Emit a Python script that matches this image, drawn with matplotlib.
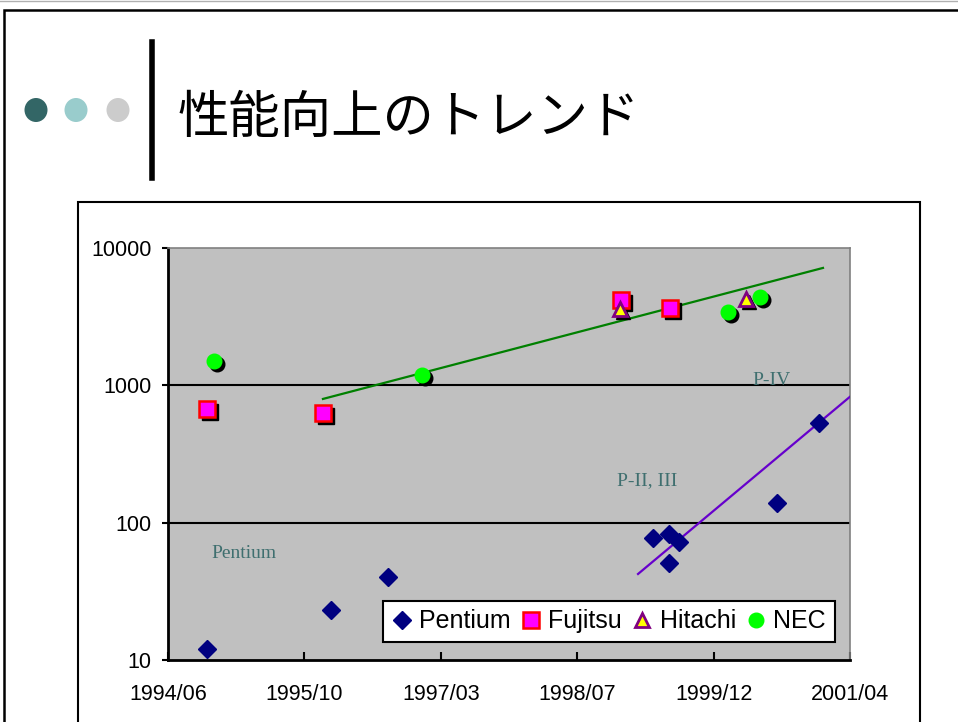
import numpy as np
import matplotlib
matplotlib.use("Agg")
import matplotlib.pyplot as plt
import matplotlib.dates as mdates
from matplotlib.patches import Rectangle, Ellipse
from matplotlib.lines import Line2D
from matplotlib.transforms import offset_copy

# ---- data ----
pentium_dates = ["1994-11-05", "1996-02-02", "1996-08-29", "1999-04-28", "1999-06-26",
                 "1999-08-01", "1999-06-26", "2000-07-25", "2000-12-26"]
pentium_vals = [12, 23, 40, 77, 83, 72, 51, 139, 530]

fujitsu_dates = ["1994-11-05", "1996-01-04", "1998-12-31", "1999-06-29"]
fujitsu_vals = [670, 630, 4190, 3660]

hitachi_dates = ["1998-12-28", "2000-04-02"]
hitachi_vals = [3600, 4260]

nec_dates = ["1994-12-01", "1997-01-01", "2000-01-28", "2000-05-24"]
nec_vals = [1500, 1190, 3430, 4400]

# trend lines (exponential fits, drawn as end points)
trend_high_dates = ["1996-01-04", "2001-01-10"]
trend_high_vals = [796, 7160]
trend_low_dates = ["1999-03-04", "2001-04-18"]
trend_low_vals = [42.3, 823]

tick_dates = ["1994-06-15", "1995-10-28", "1997-03-11", "1998-07-24", "1999-12-06", "2001-04-19"]
tick_labels = ["1994/06", "1995/10", "1997/03", "1998/07", "1999/12", "2001/04"]
y_ticks = [10, 100, 1000, 10000]


def d(lst):
    return mdates.datestr2num(lst)


W, H = 958, 722
fig = plt.figure(figsize=(W / 100, H / 100), dpi=100)
fig.patch.set_facecolor("white")


def fx(px):
    return px / W


def fy(py):
    return 1 - py / H


# slide frame
fig.add_artist(Rectangle((fx(4), -0.05), 1.2, fy(10) + 0.05, transform=fig.transFigure,
                         fill=False, edgecolor="black", lw=1.8))
fig.add_artist(Line2D([0, 1], [fy(1), fy(1)], transform=fig.transFigure, color="#b0b0b0", lw=1))

# title bullets and bar
for cx, col in zip([36, 76, 118], ["#336666", "#99cccc", "#cccccc"]):
    fig.add_artist(Ellipse((fx(cx), fy(110)), 23 / W, 24 / H, transform=fig.transFigure,
                           facecolor=col, edgecolor="none"))
fig.add_artist(Line2D([fx(152), fx(152)], [fy(42), fy(178)], transform=fig.transFigure,
                      color="black", lw=4))
fig.text(fx(178), fy(118), "性能向上のトレンド", fontsize=37, va="center", ha="left",
         family=["Noto Sans CJK JP", "DejaVu Sans"], color="black")

# chart box
fig.add_artist(Rectangle((fx(78), -0.05), fx(920) - fx(78), fy(202) + 0.05,
                         transform=fig.transFigure, fill=False, edgecolor="black", lw=1.5))

ax = fig.add_axes([fx(168), fy(660), fx(850) - fx(168), fy(248) - fy(660)])
ax.set_facecolor("#c0c0c0")
ax.set_yscale("log")
ax.set_ylim(10, 10000)
ax.set_xlim(d(tick_dates)[0], d(tick_dates)[-1])

ax.yaxis.set_major_locator(matplotlib.ticker.FixedLocator(y_ticks))
ax.yaxis.set_minor_locator(matplotlib.ticker.NullLocator())
ax.set_yticklabels([str(v) for v in y_ticks])
ax.set_xticks(d(tick_dates))
ax.set_xticklabels(tick_labels)
ax.tick_params(axis="y", direction="out", length=4, width=1.5, labelsize=15.5, pad=8)
ax.tick_params(axis="x", direction="in", length=6, width=1.5, labelsize=15.5, pad=17)
for lab in ax.get_xticklabels() + ax.get_yticklabels():
    lab.set_family("Liberation Sans")

for v in y_ticks[1:3]:
    ax.axhline(v, color="black", lw=1.5, zorder=1)

for s in ["left", "bottom"]:
    ax.spines[s].set_linewidth(2)
    ax.spines[s].set_color("black")
for s in ["top", "right"]:
    ax.spines[s].set_linewidth(1.2)
    ax.spines[s].set_color("#808080")

shadow = offset_copy(ax.transData, fig=fig, x=3, y=-3, units="dots")

ax.plot(d(trend_high_dates), trend_high_vals, color="#008000", lw=1.6, zorder=3)
ax.plot(d(trend_low_dates), trend_low_vals, color="#6600cc", lw=1.6, zorder=3)

ax.plot(d(pentium_dates), pentium_vals, "D", ms=9.5, color="#000080", mec="#000080",
        zorder=4, label="Pentium")

ax.plot(d(fujitsu_dates), fujitsu_vals, "s", ms=11, color="black", mec="black",
        transform=shadow, zorder=4)
ax.plot(d(fujitsu_dates), fujitsu_vals, "s", ms=11, mfc="#ff00ff", mec="#ff0000", mew=1.8,
        zorder=5, label="Fujitsu")

ax.plot(d(hitachi_dates), hitachi_vals, "^", ms=10, color="black", mec="black",
        transform=shadow, zorder=4)
ax.plot(d(hitachi_dates), hitachi_vals, "^", ms=10, mfc="#ffff00", mec="#800080", mew=2,
        zorder=6, label="Hitachi")

ax.plot(d(nec_dates), nec_vals, "o", ms=10.5, color="black", mec="black",
        transform=shadow, zorder=4)
ax.plot(d(nec_dates), nec_vals, "o", ms=10.5, mfc="#00ff00", mec="#00ff00",
        zorder=5, label="NEC")

txt_col = "#3f6f6f"
ax.text(d(["1995-03-22"])[0], 60, "Pentium", fontsize=14, family="Liberation Serif",
        color=txt_col, ha="center", va="center")
ax.text(d(["1999-04-05"])[0], 202, "P-II, III", fontsize=14, family="Liberation Serif",
        color=txt_col, ha="center", va="center")
ax.text(d(["2000-07-07"])[0], 1080, "P-IV", fontsize=14, family="Liberation Serif",
        color=txt_col, ha="center", va="center")

leg = ax.legend(loc="lower left", bbox_to_anchor=((383 - 168) / 682, (660 - 642) / 412),
                ncol=4, frameon=True, fancybox=False, edgecolor="black", framealpha=1,
                prop={"family": "Liberation Sans", "size": 18}, handlelength=0.8,
                handletextpad=0.3, columnspacing=0.4, borderpad=0.35, borderaxespad=0,
                markerscale=1.0)
leg.get_frame().set_linewidth(1.5)
leg.set_zorder(10)

fig.savefig("out.png", dpi=100)
